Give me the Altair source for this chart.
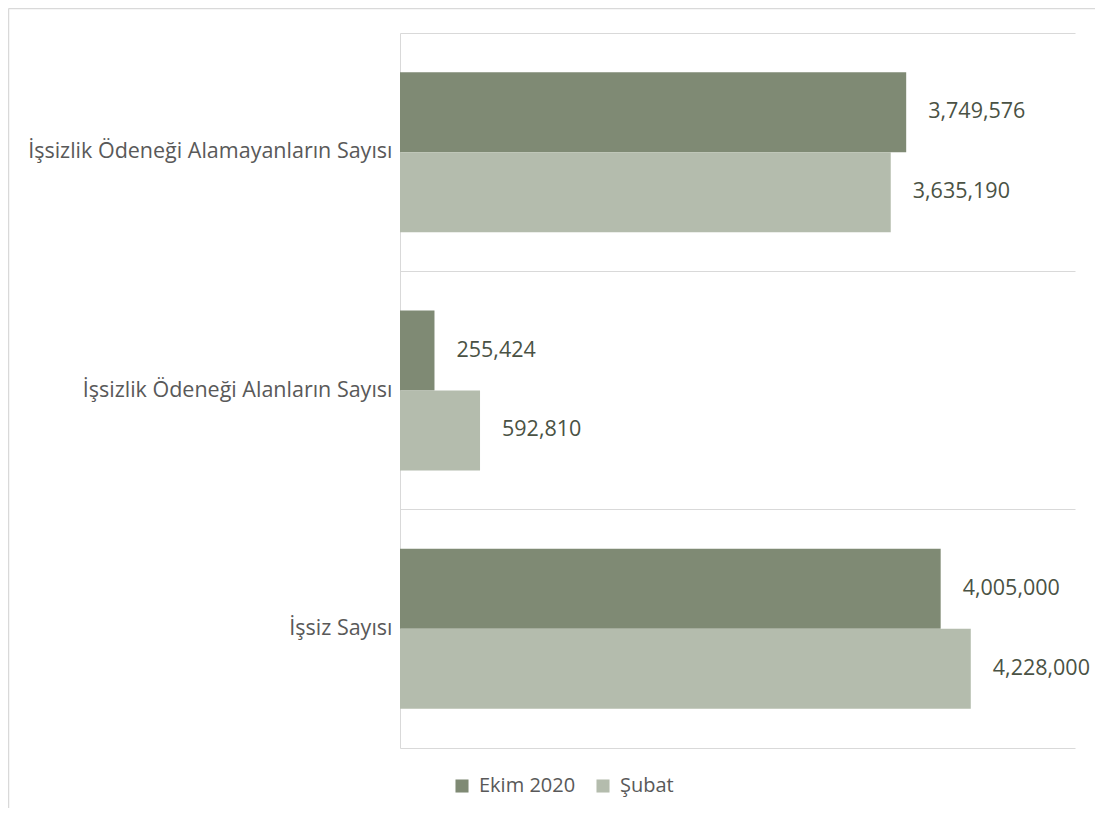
import altair as alt
import pandas as pd

categories = [
    "İşsizlik Ödeneği Alamayanların Sayısı",
    "İşsizlik Ödeneği Alanların Sayısı",
    "İşsiz Sayısı",
]
series = ["Ekim 2020", "Şubat"]
ekim_2020 = [3749576, 255424, 4005000]
subat = [3635190, 592810, 4228000]
colors = ["#7F8A74", "#B4BCAD"]

rows = []
for c, a, b in zip(categories, ekim_2020, subat):
    rows.append({"category": c, "series": series[0], "value": a})
    rows.append({"category": c, "series": series[1], "value": b})
df = pd.DataFrame(rows)

FONT = "Open Sans"

y_enc = alt.Y(
    "category:N",
    sort=categories,
    scale=alt.Scale(paddingInner=0, paddingOuter=0),
    axis=alt.Axis(
        title=None,
        grid=True,
        gridColor="#D9D9D9",
        gridWidth=1,
        bandPosition=0,
        domainColor="#D9D9D9",
        ticks=False,
        labelFontSize=21.5,
        labelColor="#595959",
        labelFont=FONT,
        labelPadding=8,
        labelLimit=0,
    ),
)
yoff = alt.YOffset(
    "series:N", sort=series, scale=alt.Scale(paddingInner=0, paddingOuter=0.49)
)
x_enc = alt.X(
    "value:Q",
    scale=alt.Scale(domain=[0, 5000000], nice=False),
    axis=alt.Axis(
        title=None,
        labels=False,
        ticks=False,
        grid=False,
        domainColor="#D9D9D9",
    ),
)

base = alt.Chart(df)
bars = base.mark_bar(opacity=1).encode(
    x=x_enc,
    y=y_enc,
    yOffset=yoff,
    color=alt.Color(
        "series:N",
        sort=series,
        scale=alt.Scale(domain=series, range=colors),
        legend=alt.Legend(
            title=None,
            orient="none",
            direction="horizontal",
            legendX=52,
            legendY=743,
            symbolType="square",
            symbolSize=170,
            symbolStrokeWidth=0,
            symbolOpacity=1,
            labelFontSize=20,
            labelFont=FONT,
            labelColor="#595959",
            labelOffset=7,
            columnPadding=17,
        ),
    ),
)
labels = base.mark_text(
    align="left", baseline="middle", dx=22, fontSize=21.5, font=FONT, color="#4A5244"
).encode(
    x=alt.X("value:Q"),
    y=alt.Y("category:N", sort=categories),
    yOffset=alt.YOffset("series:N", sort=series),
    text=alt.Text("value:Q", format=","),
)

# decorative chart-area frame (top and left edges)
frame_df = pd.DataFrame({"frame": [0]})
frame_top = alt.Chart(frame_df).mark_rule(color="#D9D9D9", strokeWidth=1.5).encode(
    x=alt.value(-391.5), x2=alt.value(710), y=alt.value(-24.5)
)
frame_left = alt.Chart(frame_df).mark_rule(color="#D9D9D9", strokeWidth=1.5).encode(
    x=alt.value(-391.5), y=alt.value(-24.5), y2=alt.value(790)
)

chart = (
    alt.layer(bars, labels, frame_top, frame_left)
    .properties(
        width=675,
        height=715,
        autosize=alt.AutoSizeParams(type="none"),
        padding={"left": 392, "top": 25, "right": 20, "bottom": 60},
        background="white",
    )
    .configure_view(stroke=None)
)

chart.save("out.html", embed_options={"renderer": "svg", "actions": False})
